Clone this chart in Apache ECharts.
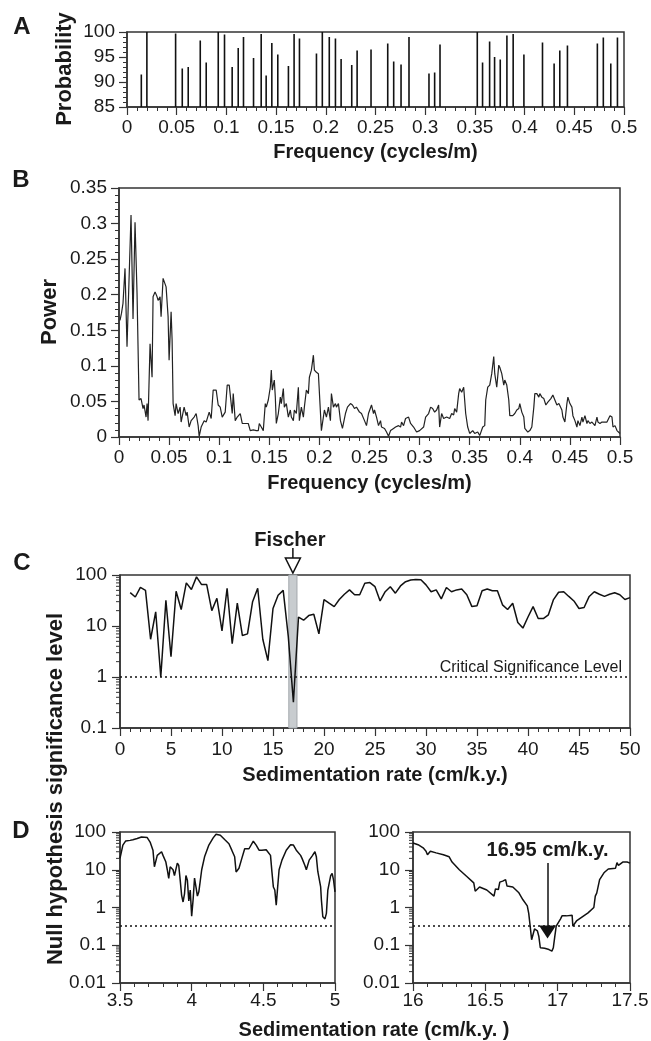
<!DOCTYPE html>
<html><head><meta charset="utf-8">
<script src="https://cdn.jsdelivr.net/npm/echarts/dist/echarts.min.js"></script>
<style>html,body{margin:0;padding:0;background:#fff}#c{width:651px;height:1041px}</style>
</head><body><div id="c"></div>
<script>
// ---------- DATA ----------
// Panel A: significant frequencies (cycles/m) and probability (%)
const aFreq = [0.0144,0.0200,0.0489,0.0556,0.0616,0.0737,0.0797,0.0918,0.0981,0.1058,0.1119,0.1172,0.1273,0.1350,0.1400,0.1457,0.1517,0.1624,0.1681,0.1735,0.1906,0.1965,0.2035,0.2097,0.2154,0.2261,0.2315,0.2455,0.2623,0.2683,0.2757,0.2837,0.3038,0.3095,0.3149,0.3524,0.3577,0.3648,0.3698,0.3755,0.3822,0.3885,0.3993,0.4180,0.4297,0.4354,0.4431,0.4732,0.4792,0.4867,0.4934];
const aProb = [91.5,100,99.7,92.7,93.0,98.3,93.9,100,99.5,93.0,96.8,99.0,94.8,99.6,91.3,97.8,95.5,93.2,99.6,98.7,95.7,100,99.0,98.7,94.6,93.4,96.3,96.5,97.7,94.1,93.5,99.0,91.7,91.9,97.5,100,93.9,98.1,95.0,94.5,99.3,99.6,95.5,97.9,93.7,96.3,97.3,97.7,98.9,93.7,98.9];

// Panel B: power spectrum [frequency, power]
const bSpectrum = [[0.001,0.164],[0.0025,0.174],[0.004,0.188],[0.006,0.237],[0.008,0.127],[0.009,0.174],[0.012,0.312],[0.014,0.166],[0.016,0.302],[0.018,0.202],[0.020,0.052],[0.022,0.054],[0.024,0.040],[0.025,0.045],[0.027,0.028],[0.028,0.047],[0.029,0.023],[0.031,0.131],[0.033,0.084],[0.034,0.197],[0.036,0.204],[0.038,0.197],[0.039,0.192],[0.041,0.197],[0.042,0.169],[0.044,0.223],[0.047,0.211],[0.049,0.169],[0.050,0.108],[0.052,0.176],[0.053,0.136],[0.054,0.047],[0.056,0.030],[0.057,0.047],[0.059,0.033],[0.061,0.042],[0.062,0.021],[0.065,0.042],[0.067,0.030],[0.068,0.035],[0.070,0.014],[0.072,0.023],[0.075,0.028],[0.077,0.033],[0.079,0.016],[0.080,0.001],[0.082,0.014],[0.085,0.023],[0.087,0.021],[0.090,0.035],[0.092,0.026],[0.094,0.066],[0.097,0.066],[0.099,0.045],[0.101,0.042],[0.103,0.028],[0.106,0.035],[0.108,0.073],[0.110,0.073],[0.113,0.033],[0.114,0.061],[0.116,0.023],[0.118,0.028],[0.121,0.033],[0.123,0.019],[0.126,0.019],[0.129,0.019],[0.131,0.009],[0.134,0.010],[0.137,0.009],[0.139,0.009],[0.140,0.019],[0.142,0.014],[0.144,0.009],[0.146,0.047],[0.147,0.042],[0.149,0.052],[0.151,0.070],[0.152,0.094],[0.153,0.066],[0.155,0.080],[0.156,0.056],[0.157,0.019],[0.159,0.033],[0.161,0.056],[0.162,0.047],[0.164,0.068],[0.165,0.042],[0.167,0.047],[0.169,0.028],[0.171,0.038],[0.172,0.028],[0.174,0.023],[0.175,0.038],[0.177,0.033],[0.179,0.070],[0.180,0.023],[0.182,0.042],[0.184,0.028],[0.185,0.042],[0.187,0.066],[0.189,0.061],[0.190,0.084],[0.192,0.094],[0.194,0.115],[0.195,0.094],[0.197,0.091],[0.199,0.089],
[0.202,0.009],[0.205,0.038],[0.207,0.028],[0.209,0.042],[0.211,0.023],[0.212,0.061],[0.214,0.042],[0.216,0.047],[0.217,0.042],[0.219,0.047],[0.221,0.023],[0.223,0.012],[0.226,0.033],[0.228,0.042],[0.231,0.047],[0.233,0.045],[0.235,0.040],[0.237,0.042],[0.240,0.035],[0.242,0.033],[0.245,0.023],[0.247,0.016],[0.249,0.033],[0.252,0.045],[0.254,0.033],[0.255,0.038],[0.257,0.028],[0.259,0.016],[0.261,0.023],[0.262,0.014],[0.265,0.012],[0.267,0.007],[0.269,0.001],[0.271,0.009],[0.274,0.012],[0.276,0.014],[0.279,0.016],[0.281,0.014],[0.282,0.021],[0.284,0.016],[0.286,0.026],[0.289,0.028],[0.291,0.019],[0.294,0.014],[0.297,0.007],[0.300,0.009],[0.304,0.014],[0.306,0.028],[0.309,0.033],[0.311,0.042],[0.313,0.040],[0.315,0.035],[0.317,0.038],[0.319,0.045],[0.320,0.014],[0.322,0.033],[0.324,0.026],[0.327,0.028],[0.330,0.026],[0.332,0.033],[0.334,0.031],[0.335,0.040],[0.337,0.035],[0.339,0.061],[0.340,0.068],[0.342,0.063],[0.344,0.070],[0.346,0.033],[0.348,0.014],[0.350,0.005],[0.353,0.009],[0.355,0.005],[0.358,0.007],[0.360,0.002],[0.363,0.014],[0.365,0.016],[0.366,0.052],[0.368,0.070],[0.370,0.073],[0.372,0.089],[0.374,0.113],[0.375,0.089],[0.377,0.070],[0.379,0.101],[0.380,0.098],[0.382,0.089],[0.384,0.073],[0.385,0.080],[0.387,0.073],[0.389,0.052],[0.390,0.030],[0.393,0.030],[0.395,0.033],[0.397,0.038],[0.399,0.040],[0.400,0.047],[0.402,0.035],[0.404,0.028],[0.405,0.012],[0.408,0.007],[0.410,0.009],[0.412,0.014],[0.414,0.042],[0.415,0.061],[0.417,0.061],[0.419,0.056],[0.420,0.061],[0.422,0.056],[0.424,0.054],[0.426,0.045],[0.428,0.049],[0.431,0.054],[0.433,0.059],[0.435,0.052],[0.437,0.045],[0.439,0.047],[0.442,0.038],[0.443,0.028],[0.445,0.021],[0.447,0.047],[0.448,0.056],[0.450,0.047],[0.452,0.042],[0.453,0.030],[0.455,0.023],[0.457,0.014],[0.458,0.023],[0.460,0.016],[0.462,0.028],[0.463,0.021],[0.465,0.030],[0.467,0.019],[0.468,0.023],[0.470,0.019],[0.472,0.021],[0.473,0.019],[0.475,0.016],[0.477,0.028],[0.478,0.021],[0.480,0.019],[0.482,0.021],[0.483,0.023],[0.485,0.021],[0.487,0.021],[0.488,0.023],[0.490,0.030],[0.492,0.028],[0.493,0.014],[0.495,0.016],[0.497,0.009],[0.498,0.009],[0.500,0.005]];

// Panel C: [sedimentation rate (cm/k.y.), null hypothesis significance level]
const cScan = [[1.0,45],[1.5,37],[2.0,57],[2.5,50],[3.0,5.5],[3.5,19],[4.0,1.0],[4.5,32],[5.0,2.5],[5.5,48],[6.0,21],[6.5,70],[7.0,52],[7.5,92],[8.0,65],[8.5,65],[9.0,20],[9.5,35],[10.0,8],[10.5,55],[11.0,4.5],[11.5,28],[12.0,6.5],[12.5,7],[13.0,30],[13.5,55],[14.0,5.5],[14.5,2.1],[15.0,22],[15.5,40],[16.0,50],[16.5,6.2],[17.0,0.32],[17.5,15],[18.0,13],[18.5,16],[19.0,17],[19.5,7],[20.0,33],[20.5,28],[21.0,24],[21.5,33],[22.0,42],[22.5,51],[23.0,41],[23.5,41],[24.0,69],[24.5,71],[25.0,59],[25.5,31],[26.0,47],[26.5,59],[27.0,44],[27.5,61],[28.0,74],[28.5,80],[29.0,82],[29.5,81],[30.0,64],[30.5,47],[31.0,51],[31.5,34],[32.0,57],[32.5,47],[33.0,51],[33.5,53],[34.0,41],[34.5,24],[35.0,25],[35.5,49],[36.0,53],[36.5,49],[37.0,49],[37.5,26],[38.0,21],[38.5,28],[39.0,11.7],[39.5,9.1],[40.0,15],[40.5,24],[41.0,14],[41.5,14],[42.0,16.6],[42.5,33],[43.0,46],[43.5,47],[44.0,38],[44.5,31],[45.0,22],[45.5,23],[46.0,38],[46.5,47],[47.0,42],[47.5,38],[48.0,42],[48.5,45],[49.0,41],[49.5,33],[50.0,36]];
const criticalLevelC = 1;
const fischerBand = [16.55, 17.35];
const fischerRate = 16.95;

// Panel D: fine scans
const dLeftScan = [[3.50,20],[3.52,45],[3.54,58],[3.57,60],[3.59,62],[3.62,67],[3.65,74],[3.69,71],[3.71,54],[3.73,33],[3.74,12],[3.76,24],[3.77,27],[3.79,30],[3.80,24],[3.82,16],[3.83,10],[3.84,5.9],[3.85,12],[3.87,10],[3.88,7],[3.90,15],[3.91,13],[3.92,5.3],[3.93,2.1],[3.94,1.4],[3.95,2.3],[3.96,7],[3.97,5.3],[3.98,1.5],[3.99,2.9],[4.00,0.59],[4.01,1.6],[4.02,6],[4.03,3.5],[4.04,2],[4.05,2.6],[4.07,10],[4.08,11],[4.09,22],[4.12,45],[4.15,70],[4.17,87],[4.20,82],[4.23,63],[4.26,49],[4.28,33],[4.30,22],[4.31,8.7],[4.32,7.9],[4.33,11],[4.35,20],[4.37,36],[4.40,36],[4.41,40],[4.43,57],[4.45,45],[4.47,33],[4.49,33],[4.52,34],[4.55,24],[4.56,8.8],[4.57,3.5],[4.58,2.9],[4.59,1.15],[4.60,3.5],[4.61,10],[4.63,18],[4.64,20],[4.66,33],[4.69,46],[4.71,45],[4.73,33],[4.76,24],[4.77,20],[4.79,13],[4.80,10],[4.82,18],[4.84,23],[4.86,30],[4.87,22],[4.88,9],[4.90,3.5],[4.905,1.6],[4.915,0.57],[4.93,0.5],[4.94,0.7],[4.95,2.9],[4.97,7],[4.98,8],[4.99,5.3],[5.00,2.6]];
const dRightScan = [[16.00,51],[16.035,46],[16.07,38],[16.09,31],[16.10,25],[16.12,31],[16.16,28],[16.21,25],[16.25,22],[16.27,16],[16.32,10],[16.37,6.7],[16.42,4.5],[16.43,2.7],[16.44,2.5],[16.46,3.5],[16.51,2.9],[16.56,2.0],[16.57,3.1],[16.59,3.0],[16.60,4.7],[16.62,5.0],[16.64,5.5],[16.65,3.7],[16.69,3.5],[16.73,2.5],[16.76,1.6],[16.79,1.1],[16.80,0.7],[16.81,0.32],[16.82,0.14],[16.83,0.13],[16.84,0.27],[16.86,0.24],[16.87,0.17],[16.88,0.086],[16.91,0.083],[16.94,0.077],[16.96,0.07],[16.97,0.086],[16.98,0.17],[16.99,0.32],[17.02,0.5],[17.03,0.6],[17.06,0.6],[17.10,0.62],[17.105,0.32],[17.13,0.44],[17.18,0.6],[17.21,0.72],[17.25,1.0],[17.26,2.0],[17.27,2.4],[17.29,5.5],[17.32,8.3],[17.35,10.5],[17.40,11],[17.41,15.5],[17.42,13],[17.45,16],[17.48,16],[17.50,15]];
const criticalLevelD = 0.32;
const bestRate = 16.93;
const arrowTop = 15.1, arrowEnd = 0.224;

const logMultipliers = [2,3,4,5,6,7,8,9];
const decadesC = [0.1, 1, 10];
const decadesD = [0.01, 0.1, 1, 10];

// ---------- CHART ----------
const FONT = "'Liberation Sans', Arial, Helvetica, sans-serif";
const INK = '#1a1a1a';
const chart = echarts.init(document.getElementById('c'), null, {renderer:'canvas'});

function gridBox(o){ return Object.assign({show:true, borderColor:'#333', borderWidth:1.5, backgroundColor:'transparent', containLabel:false, outerBoundsMode:'none'}, o); }
function valAxis(o){
  return Object.assign({
    type:'value', scale:false,
    axisLine:{show:true, onZero:false, lineStyle:{color:'#333', width:1.5}},
    axisTick:{show:true, inside:false, length:8, lineStyle:{color:'#333', width:1.2}},
    minorTick:{show:true, splitNumber:5, length:4, lineStyle:{color:'#333', width:1}},
    splitLine:{show:false}, minorSplitLine:{show:false},
    axisLabel:{fontSize:19, color:INK, fontFamily:FONT, margin:11},
    nameTextStyle:{fontSize:20, fontWeight:'bold', color:INK, fontFamily:FONT}
  }, o);
}
function logAxis(o){
  return Object.assign({
    type:'log', logBase:10,
    axisLine:{show:true, onZero:false, lineStyle:{color:'#333', width:1.5}},
    axisTick:{show:true, inside:false, length:8, lineStyle:{color:'#333', width:1.2}},
    minorTick:{show:false},
    splitLine:{show:false},
    axisLabel:{fontSize:19, color:INK, fontFamily:FONT, margin:12}
  }, o);
}
function minorLogData(x0, decades){
  const out=[]; decades.forEach(d=>logMultipliers.forEach(m=>out.push([x0, +(d*m).toPrecision(3)]))); return out;
}
function renderMinorTick(params, api){
  const p = api.coord([api.value(0), api.value(1)]);
  return {type:'line', shape:{x1:p[0]-4, y1:p[1], x2:p[0], y2:p[1]}, style:{stroke:'#333', lineWidth:1}};
}
function renderStem(params, api){
  const x = api.value(0);
  const p0 = api.coord([x, 85]), p1 = api.coord([x, api.value(1)]);
  return {type:'line', shape:{x1:p0[0], y1:p0[1], x2:p1[0], y2:p1[1]}, style:{stroke:'#111', lineWidth:1.6}};
}

const dotted = {type:[2,3], color:'#111', width:1.5};

const option = {
  animation:false,
  backgroundColor:'#fff',
  grid:[
    gridBox({left:127, top:32, width:497, height:75}),
    gridBox({left:119, top:188, width:501, height:249}),
    gridBox({left:120, top:575, width:510, height:153}),
    gridBox({left:120, top:832, width:215, height:151}),
    gridBox({left:413, top:832, width:217, height:151})
  ],
  xAxis:[
    valAxis({gridIndex:0, min:0, max:0.5, interval:0.05, name:'Frequency (cycles/m)', nameLocation:'middle', nameGap:35}),
    valAxis({gridIndex:1, min:0, max:0.5, interval:0.05, name:'Frequency (cycles/m)', nameLocation:'middle', nameGap:36}),
    valAxis({gridIndex:2, min:0, max:50, interval:5, name:'Sedimentation rate (cm/k.y.)', nameLocation:'middle', nameGap:37, axisLabel:{fontSize:19, color:INK, fontFamily:FONT, margin:12}}),
    valAxis({gridIndex:3, min:3.5, max:5, interval:0.5, axisLabel:{fontSize:19, color:INK, fontFamily:FONT, margin:8}}),
    valAxis({gridIndex:4, min:16, max:17.5, interval:0.5, axisLabel:{fontSize:19, color:INK, fontFamily:FONT, margin:8}})
  ],
  yAxis:[
    valAxis({gridIndex:0, min:85, max:100, interval:5, axisLabel:{fontSize:19, color:INK, fontFamily:FONT, margin:12}}),
    valAxis({gridIndex:1, min:0, max:0.35, interval:0.05, axisLabel:{fontSize:19, color:INK, fontFamily:FONT, margin:12}}),
    logAxis({gridIndex:2, min:0.1, max:100, axisLabel:{fontSize:19, color:INK, fontFamily:FONT, margin:13}}),
    logAxis({gridIndex:3, min:0.01, max:100, axisLabel:{fontSize:19, color:INK, fontFamily:FONT, margin:14}}),
    logAxis({gridIndex:4, min:0.01, max:100, axisLabel:{fontSize:19, color:INK, fontFamily:FONT, margin:13}})
  ],
  series:[
    {type:'custom', xAxisIndex:0, yAxisIndex:0, silent:true, renderItem:renderStem,
     data: aFreq.map((f,i)=>[f, aProb[i]])},
    {type:'line', xAxisIndex:1, yAxisIndex:1, data:bSpectrum, symbol:'none', silent:true,
     lineStyle:{color:'#222', width:1.2}},
    {type:'line', xAxisIndex:2, yAxisIndex:2, data:cScan, symbol:'none', silent:true,
     lineStyle:{color:'#111', width:1.5},
     markArea:{silent:true, itemStyle:{color:'#c8cccf', borderColor:'#a3a9ad', borderWidth:1},
       data:[[{xAxis:fischerBand[0]},{xAxis:fischerBand[1]}]]},
     markLine:{silent:true, symbol:['none','none'], lineStyle:dotted, animation:false,
       label:{show:true, position:'insideEndTop', formatter:'Critical Significance Level', fontSize:16, color:INK, fontFamily:FONT, distance:[8,1]},
       data:[{yAxis:criticalLevelC}]}},
    {type:'line', xAxisIndex:3, yAxisIndex:3, data:dLeftScan, symbol:'none', silent:true,
     lineStyle:{color:'#111', width:1.5},
     markLine:{silent:true, symbol:['none','none'], lineStyle:dotted, label:{show:false}, data:[{yAxis:criticalLevelD}]}},
    {type:'line', xAxisIndex:4, yAxisIndex:4, data:dRightScan, symbol:'none', silent:true,
     lineStyle:{color:'#111', width:1.5},
     markLine:{silent:true, symbol:['none','none'], lineStyle:dotted, label:{show:false},
       data:[
         {yAxis:criticalLevelD},
         [{coord:[bestRate, arrowTop], symbol:'none',
           lineStyle:{type:'solid', color:'#111', width:1.5},
           label:{show:true, position:'start', formatter:'16.95 cm/k.y.', fontSize:20, fontWeight:'bold', color:INK, fontFamily:FONT, distance:3}},
          {coord:[bestRate, arrowEnd], symbol:'triangle', symbolSize:[17,13]}]
       ]}},
    {type:'custom', xAxisIndex:2, yAxisIndex:2, silent:true, renderItem:renderMinorTick, data:minorLogData(0, decadesC)},
    {type:'custom', xAxisIndex:3, yAxisIndex:3, silent:true, renderItem:renderMinorTick, data:minorLogData(3.5, decadesD)},
    {type:'custom', xAxisIndex:4, yAxisIndex:4, silent:true, renderItem:renderMinorTick, data:minorLogData(16, decadesD)}
  ]
};
chart.setOption(option);

// annotations (positions derived from the chart's own scales)
const fp = chart.convertToPixel({gridIndex:2}, [fischerRate, 100]);
function txt(x,y,text,size,weight,rot){
  return {type:'text', x:x, y:y, rotation:rot||0, silent:true,
    style:{text:text, fontSize:size, fontWeight:weight||'normal', fontFamily:FONT, fill:INK, align:'center', verticalAlign:'middle'}};
}
chart.setOption({graphic:[
  txt(22,27,'A',24,'bold'), txt(21,180,'B',24,'bold'), txt(22,563,'C',24,'bold'), txt(21,831,'D',24,'bold'),
  txt(65,69,'Probability',22,'bold',Math.PI/2),
  txt(50,312,'Power',22,'bold',Math.PI/2),
  txt(56,789,'Null hypothesis significance level',22,'bold',Math.PI/2),
  txt(374,1030,'Sedimentation rate (cm/k.y. )',20,'bold'),
  txt(fp[0]-3, fp[1]-35, 'Fischer', 20, 'bold'),
  {type:'line', silent:true, shape:{x1:fp[0], y1:fp[1]-27, x2:fp[0], y2:fp[1]-17}, style:{stroke:'#111', lineWidth:1.5}},
  {type:'polygon', silent:true, shape:{points:[[fp[0]-7.5, fp[1]-17],[fp[0]+7.5, fp[1]-17],[fp[0], fp[1]-2]]}, style:{fill:'#fff', stroke:'#111', lineWidth:1.5}}
]});
</script>
</body></html>
